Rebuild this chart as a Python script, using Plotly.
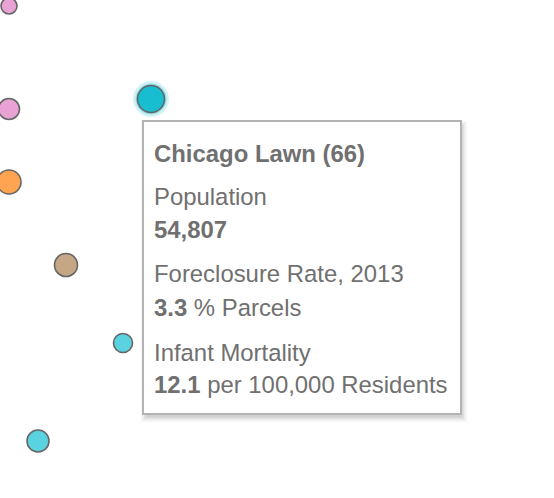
import plotly.graph_objects as go

# ---- data ----
point_x = [9, 9, 9, 151, 66, 123, 38]
point_y = [6, 109, 182, 99, 265, 343, 441]
point_d = [16, 21, 24, 27, 23, 19, 22]
point_colors = ["#e8a2d3", "#e8a2d3", "#ffa552", "#17becf", "#c5a685", "#5ad2df", "#5ad2df"]

hl_index = 3
tip_title = "Chicago Lawn (66)"
tip_labels = ["Population", "Foreclosure Rate, 2013", "Infant Mortality"]
tip_values = ["54,807", "3.3", "12.1"]
tip_units = ["", "% Parcels", "per 100,000 Residents"]

W, H = 554, 498
fig = go.Figure()

# glow for highlighted point
fig.add_trace(go.Scatter(
    x=[point_x[hl_index]], y=[point_y[hl_index]], mode="markers",
    marker=dict(size=point_d[hl_index] + 9, color="rgba(23,190,207,0.18)", line=dict(width=0)),
    hoverinfo="skip", showlegend=False))
fig.add_trace(go.Scatter(
    x=[point_x[hl_index]], y=[point_y[hl_index]], mode="markers",
    marker=dict(size=point_d[hl_index] + 4, color="rgba(23,190,207,0.35)", line=dict(width=0)),
    hoverinfo="skip", showlegend=False))

fig.add_trace(go.Scatter(
    x=point_x, y=point_y, mode="markers",
    marker=dict(size=point_d, color=point_colors, opacity=1,
                line=dict(width=1.6, color="#666666")),
    hoverinfo="skip", showlegend=False))

# tooltip box
bx0, bx1, by0, by1 = 143, 461, 121, 414
shapes = []
for i, a in enumerate([0.03, 0.04, 0.05, 0.06]):
    off = 6 - i * 1.5
    shapes.append(dict(type="rect", xref="x", yref="y",
                       x0=bx0 - off + 4, x1=bx1 + off, y0=by0 - off + 6, y1=by1 + off + 2,
                       fillcolor=f"rgba(0,0,0,{a})", line=dict(width=0), layer="above"))
shapes.append(dict(type="rect", xref="x", yref="y", x0=bx0, x1=bx1, y0=by0, y1=by1,
                   fillcolor="white", line=dict(color="#b3b3b3", width=2), layer="above"))

FONT = "Liberation Sans, Arial, Helvetica, sans-serif"
TC = "#707070"
FS = 23.9
tx = 152
anns = []
lines = [("<b>%s</b>" % tip_title, 153)]
ys = [(196, 229), (273, 307), (352, 384)]
for lab, val, unit, (yl, yv) in zip(tip_labels, tip_values, tip_units, ys):
    lines.append((lab, yl))
    lines.append(("<b>%s</b>%s" % (val, (" " + unit) if unit else ""), yv))
for txt, yy in lines:
    anns.append(dict(x=tx, y=yy, xref="x", yref="y", text=txt, showarrow=False,
                     xanchor="left", yanchor="middle", align="left",
                     font=dict(family=FONT, size=FS, color=TC)))

fig.update_layout(
    width=W, height=H, margin=dict(l=0, r=0, t=0, b=0),
    paper_bgcolor="white", plot_bgcolor="white",
    xaxis=dict(range=[0, W], visible=False, fixedrange=True),
    yaxis=dict(range=[H, 0], visible=False, fixedrange=True),
    shapes=shapes, annotations=anns, showlegend=False)

fig.write_html("out.html")
